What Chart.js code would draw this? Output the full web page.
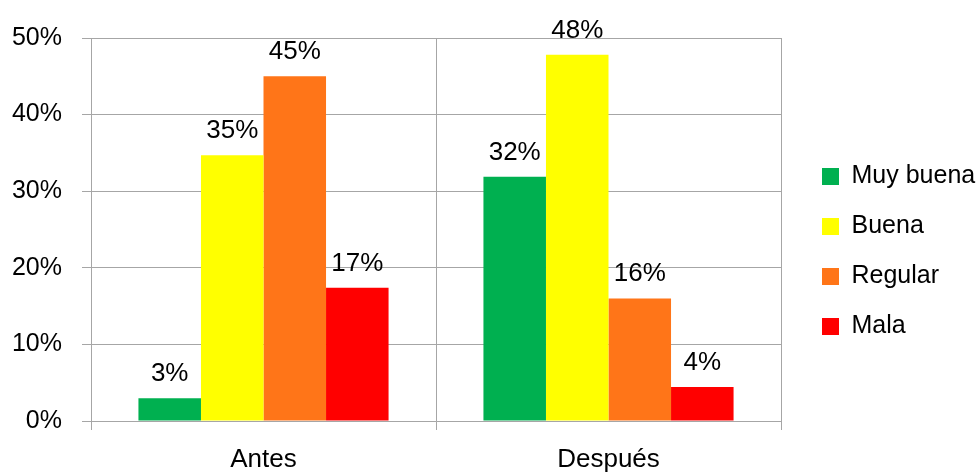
<!DOCTYPE html>
<html>
<head>
<meta charset="utf-8">
<script src="https://cdn.jsdelivr.net/npm/chart.js@4/dist/chart.umd.min.js"></script>
<style>
  html, body { margin: 0; padding: 0; background: #fff; }
  #wrap { width: 979px; height: 473px; }
</style>
</head>
<body>
<div id="wrap"><canvas id="myChart" width="979" height="473"></canvas></div>
<script>
// data
const categories = ["Antes", "Después"];
const seriesNames = ["Muy buena", "Buena", "Regular", "Mala"];
const muyBuena = [2.96, 31.9];
const buena = [34.7, 47.8];
const regular = [45, 16];
const mala = [17.4, 4.45];
const yTicks = [0, 10, 20, 30, 40, 50];

const colors = ["#00b050", "#ffff00", "#ff7518", "#ff0000"];
const fontFamily = "'Liberation Sans Narrow', 'Arial Narrow', 'Liberation Sans', Arial, sans-serif";
const gridColor = "#a6a6a6";

const seriesValues = [muyBuena, buena, regular, mala];

// value labels above each bar
const barLabels = {
  id: "barLabels",
  afterDatasetsDraw(chart) {
    const ctx = chart.ctx;
    ctx.save();
    ctx.font = "26px " + fontFamily;
    ctx.fillStyle = "#000";
    ctx.textAlign = "center";
    ctx.textBaseline = "alphabetic";
    chart.data.datasets.forEach((ds, i) => {
      chart.getDatasetMeta(i).data.forEach((bar, j) => {
        ctx.fillText(Math.round(ds.data[j]) + "%", bar.x, bar.y - 17);
      });
    });
    ctx.restore();
  },
};

// fixed legend width, and put it where the original has it
const legendPlace = {
  id: "legendPlace",
  beforeLayout(chart) {
    const lg = chart.legend;
    if (lg && !lg._patched) {
      const fit = lg.fit;
      lg.fit = function () {
        fit.call(this);
        this.width = 198;
      };
      lg._patched = true;
    }
  },
  afterLayout(chart) {
    const lg = chart.legend;
    const dx = 797 - lg.left;
    lg.left += dx;
    lg.right += dx;
    lg.top -= 4;
    lg.bottom -= 4;
  },
};

const data = {
  labels: categories,
  datasets: seriesNames.map((name, i) => ({
    label: name,
    data: seriesValues[i],
    backgroundColor: colors[i],
    borderWidth: 0,
    categoryPercentage: 0.725,
    barPercentage: 1,
  })),
};

const config = {
  type: "bar",
  data: data,
  options: {
    responsive: false,
    animation: false,
    layout: { padding: { top: 38, right: 0, bottom: 0, left: 0 } },
    plugins: {
      legend: {
        position: "right",
        labels: {
          boxWidth: 17,
          boxHeight: 17,
          padding: 25,
          color: "#000",
          font: { family: fontFamily, size: 25 },
        },
      },
      tooltip: { enabled: false },
    },
    scales: {
      x: {
        offset: true,
        grid: {
          offset: true,
          color: gridColor,
          tickLength: 9,
        },
        border: { color: gridColor },
        ticks: {
          color: "#000",
          padding: 14,
          font: { family: fontFamily, size: 26 },
        },
        afterFit(scale) {
          scale.height = 52;
        },
      },
      y: {
        min: 0,
        max: 50,
        afterBuildTicks(scale) {
          scale.ticks = yTicks.map((v) => ({ value: v }));
        },
        grid: {
          color: gridColor,
          tickLength: 9,
        },
        border: { color: gridColor },
        ticks: {
          color: "#000",
          padding: 20,
          font: { family: fontFamily, size: 25 },
          callback: (v) => v + "%",
        },
        afterFit(scale) {
          scale.width = 91;
        },
      },
    },
  },
  plugins: [barLabels, legendPlace],
};

const myChart = new Chart(document.getElementById("myChart"), config);
</script>
</body>
</html>
